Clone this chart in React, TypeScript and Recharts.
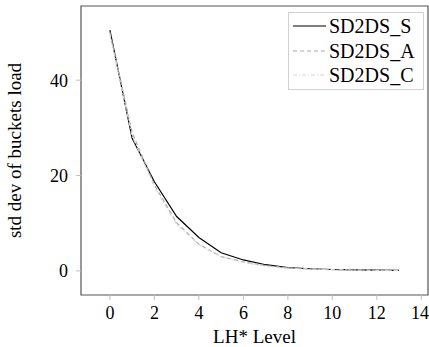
import { Label, Line, LineChart, ReferenceArea, XAxis, YAxis } from "recharts";

const levels = [0, 1, 2, 3, 4, 5, 6, 7, 8, 9, 10, 11, 12, 13];
const sd2dsS = [50.5, 27.8, 18.7, 11.4, 7.0, 3.8, 2.3, 1.3, 0.7, 0.45, 0.3, 0.2, 0.15, 0.1];
const sd2dsA = [50.0, 29.0, 18.0, 10.1, 5.6, 3.0, 1.9, 1.1, 0.6, 0.4, 0.25, 0.18, 0.12, 0.1];
const sd2dsC = [49.6, 28.3, 17.6, 9.8, 5.5, 3.0, 1.8, 1.0, 0.6, 0.4, 0.25, 0.18, 0.12, 0.1];
const xTicks = [0, 2, 4, 6, 8, 10, 12, 14];
const yTicks = [0, 20, 40];

const data = levels.map((lvl, i) => ({ lvl, s: sd2dsS[i], a: sd2dsA[i], c: sd2dsC[i] }));

const font = "Liberation Serif, serif";
const xDomain = [-1.3, 14.3];
const yDomain = [-5.05, 55.55];

const series = [
  { key: "s", name: "SD2DS_S", color: "#000000", dash: undefined },
  { key: "a", name: "SD2DS_A", color: "#aaaaaa", dash: "4 3" },
  { key: "c", name: "SD2DS_C", color: "#d6d6d6", dash: "4 2 1 2" },
];

function LegendBox() {
  return (
    <div
      style={{
        position: "absolute",
        left: 288,
        top: 12,
        border: "1px solid #d0d0d0",
        background: "#fff",
        padding: "1px 8px 1px 4px",
        fontFamily: font,
        fontSize: 20,
        lineHeight: "24.5px",
      }}
    >
      {series.map((s) => (
        <div key={s.key} style={{ display: "flex", alignItems: "center" }}>
          <svg width={34} height={10} style={{ marginRight: 2 }}>
            <line x1={0} y1={5} x2={33} y2={5} stroke={s.color} strokeWidth={1.2} strokeDasharray={s.dash} />
          </svg>
          <span>{s.name}</span>
        </div>
      ))}
    </div>
  );
}

export default function App() {
  return (
    <div style={{ position: "absolute", left: 0, top: 0, width: 429, height: 347, background: "#fff", fontFamily: font }}>
      <LineChart
        width={429}
        height={347}
        data={data}
        margin={{ top: 6, right: 1, bottom: 0, left: 0 }}
        style={{ fontFamily: font }}
      >
        <XAxis
          dataKey="lvl"
          type="number"
          domain={xDomain}
          ticks={xTicks}
          allowDataOverflow
          axisLine={false}
          tickLine={{ stroke: "#c0c0c0" }}
          tickSize={5}
          tickMargin={6}
          height={52}
          tick={{ fill: "#000", fontSize: 18, fontFamily: font }}
        >
          <Label value="LH* Level" position="insideBottom" offset={4} style={{ fill: "#000", fontFamily: font, fontSize: 19 }} />
        </XAxis>
        <YAxis
          type="number"
          domain={yDomain}
          ticks={yTicks}
          allowDataOverflow
          axisLine={false}
          tickLine={{ stroke: "#c0c0c0" }}
          tickSize={5}
          tickMargin={8}
          width={81}
          tick={{ fill: "#000", fontSize: 18, fontFamily: font }}
        >
          <Label
            value="std dev of buckets load"
            angle={-90}
            position="insideLeft"
            offset={14}
            style={{ textAnchor: "middle", fill: "#000", fontFamily: font, fontSize: 19 }}
          />
        </YAxis>
        <ReferenceArea x1={xDomain[0]} x2={xDomain[1]} y1={yDomain[0]} y2={yDomain[1]} fill="none" stroke="#555" strokeWidth={1.2} />
        {series.map((s) => (
          <Line
            key={s.key}
            type="linear"
            dataKey={s.key}
            name={s.name}
            stroke={s.color}
            strokeWidth={1.2}
            strokeDasharray={s.dash}
            dot={false}
            isAnimationActive={false}
          />
        ))}
      </LineChart>
      <LegendBox />
    </div>
  );
}
